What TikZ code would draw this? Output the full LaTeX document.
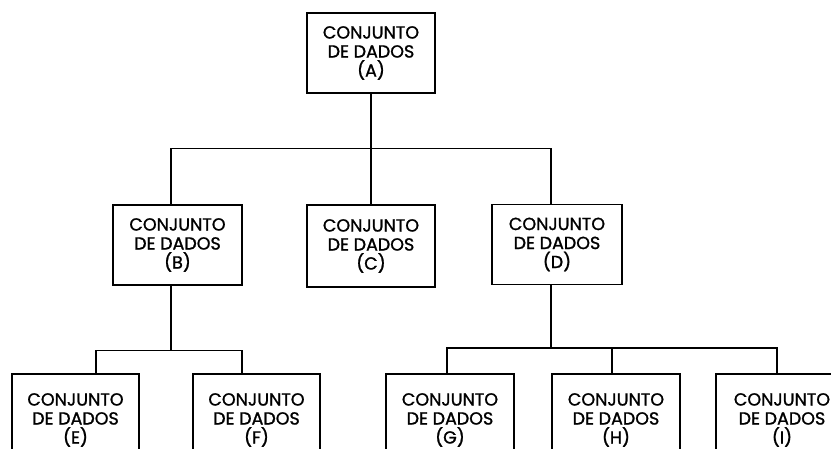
\documentclass[tikz,border=0pt]{standalone}
\usepackage{fontspec}
\newfontfamily\boxfont[FakeBold=1.2]{Poppins}
\tikzset{
  dset/.style={rectangle, draw, line width=1.3pt, minimum width=128pt, minimum height=80pt, align=center, font=\boxfont\fontsize{17.5}{19}\selectfont, inner sep=0pt},
  link/.style={line width=1.3pt},
  low/.style={dset, minimum height=92pt}
}
\begin{document}
\begin{tikzpicture}[x=1pt,y=-1pt]
\useasboundingbox (0,0) rectangle (831,449);
\clip (0,0) rectangle (831,449);
% top level
\node[dset] (a) at (371,53) {CONJUNTO\\DE DADOS\\(A)};
% second level
\node[dset, minimum width=129pt] (b) at (177.5,245) {CONJUNTO\\DE DADOS\\(B)};
\node[dset, minimum height=82pt] (c) at (371,246) {CONJUNTO\\DE DADOS\\(C)};
\node[dset, minimum width=130pt] (d) at (557,244.5) {CONJUNTO\\DE DADOS\\(D)};
% third level
\node[low, minimum width=127pt] (e) at (75.5,420) {CONJUNTO\\DE DADOS\\(E)};
\node[low, minimum width=127pt] (f) at (256.5,420) {CONJUNTO\\DE DADOS\\(F)};
\node[low] (g) at (450,420) {CONJUNTO\\DE DADOS\\(G)};
\node[low] (h) at (616,420) {CONJUNTO\\DE DADOS\\(H)};
\node[low, minimum width=132pt] (i) at (782,420) {CONJUNTO\\DE DADOS\\(I)};

\draw[link] (a.south) -- (c.north);
\draw[link] ([xshift=-6.5pt]b.north) -- ++(0,-56) -| ([xshift=-6pt]d.north);
\draw[link] ([xshift=-6.5pt]b.south) -- ++(0,65) coordinate (bj);
\draw[link] ([xshift=20.5pt]e.north) |- (bj) -| ([xshift=-14.5pt]f.north);
\draw[link] ([xshift=-6pt]d.south) -- ++(0,63) coordinate (dj);
\draw[link] ([xshift=-3pt]g.north) |- (dj) -| ([xshift=-5pt]i.north);
\draw[link] ([xshift=-4pt]h.north) -- ([xshift=-4pt]h.north |- dj);
\end{tikzpicture}
\end{document}
